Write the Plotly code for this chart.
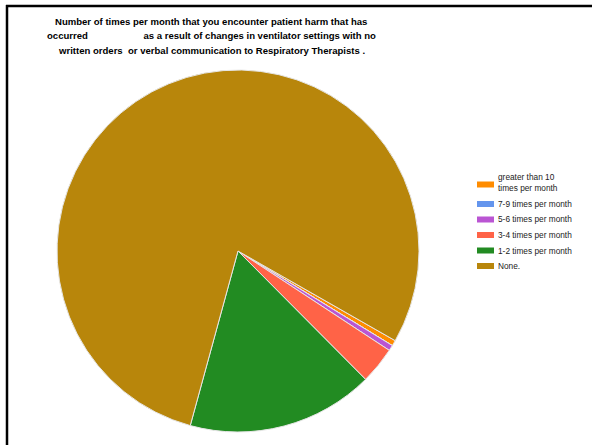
import plotly.graph_objects as go

# Survey answers, in legend order
labels = [
    "greater than 10<br>times per month",
    "7-9 times per month",
    "5-6 times per month",
    "3-4 times per month",
    "1-2 times per month",
    "None.",
]
values = [0.5, 0.0, 0.5, 3.3, 16.7, 79.0]
colors = ["#FF8C00", "#6495ED", "#BA55D3", "#FF6347", "#228B22", "#B8860B"]

title_lines = [
    "Number of times per month that you encounter patient harm that has",
    "occurred" + "\u00a0" * 21 + "as a result of changes in ventilator settings with no",
    "written orders\u00a0\u00a0or verbal communication to Respiratory Therapists .",
]

W, H = 592, 445


def px(x):
    return x / W


def py(y):
    return 1 - y / H


# pie placement in pixels (center and radius)
cx, cy, r = 238, 251, 181

fig = go.Figure(
    go.Pie(
        labels=labels,
        values=values,
        sort=False,
        direction="clockwise",
        rotation=119.7,
        marker=dict(colors=colors, line=dict(color="#E6E6E6", width=1)),
        textinfo="none",
        hoverinfo="label+percent",
        showlegend=False,
        domain=dict(
            x=[px(cx - r), px(cx + r)],
            y=[py(cy + r), py(cy - r)],
        ),
    )
)

annotations = []

# three-line heading
for i, line in enumerate(title_lines):
    annotations.append(dict(
        text="<b>" + line + "</b>", xref="paper", yref="paper",
        x=px(211), y=py(22 + 14 * i), xanchor="center", yanchor="middle",
        showarrow=False, font=dict(size=9.55, color="black"),
    ))

# legend: colour swatch and label per answer
shapes = []
y = 184.5
for lab, col in zip(labels, colors):
    nlines = lab.count("<br>") + 1
    shapes.append(dict(
        type="rect", xref="paper", yref="paper",
        x0=px(477), x1=px(494), y0=py(y + 3), y1=py(y - 3),
        fillcolor=col, line=dict(width=0),
    ))
    annotations.append(dict(
        text=lab, xref="paper", yref="paper",
        x=px(496), y=py(y - 2.5 * (nlines - 1)), xanchor="left", yanchor="middle",
        align="left", showarrow=False, font=dict(size=8.3, color="#222222"),
    ))
    y += 15.5 + 4 * (nlines - 1)

# frame: left and top edges
shapes += [
    dict(type="line", xref="paper", yref="paper",
         x0=px(7), x1=px(7), y0=0, y1=py(5),
         line=dict(color="black", width=2.5)),
    dict(type="line", xref="paper", yref="paper",
         x0=px(6), x1=1, y0=py(6), y1=py(6),
         line=dict(color="black", width=2.5)),
]

fig.update_layout(
    width=W,
    height=H,
    margin=dict(l=0, r=0, t=0, b=0),
    paper_bgcolor="white",
    plot_bgcolor="white",
    font=dict(family="Liberation Sans, Arial, sans-serif", color="#222222"),
    annotations=annotations,
    shapes=shapes,
)

fig.write_html("out.html")
